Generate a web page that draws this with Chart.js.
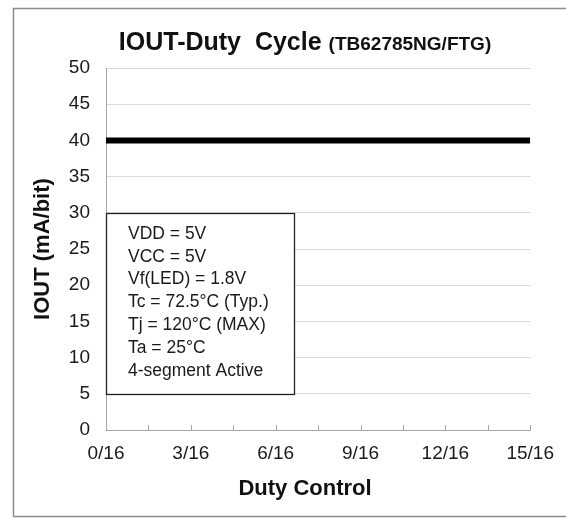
<!DOCTYPE html>
<html>
<head>
<meta charset="utf-8">
<title>IOUT-Duty Cycle</title>
<script src="https://cdn.jsdelivr.net/npm/chart.js@4.4.1/dist/chart.umd.min.js"></script>
<style>
  html, body { margin: 0; padding: 0; background: #fff; }
  #wrap { position: relative; width: 566px; height: 519px; }
</style>
</head>
<body>
<div id="wrap"><canvas id="chart" width="566" height="519"></canvas></div>
<script>
// duty setting n/16 and output current per bit
const dutySteps = [0, 1, 2, 3, 4, 5, 6, 7, 8, 9, 10, 11, 12, 13, 14, 15];
const ioutValues = [40, 40, 40, 40, 40, 40, 40, 40, 40, 40, 40, 40, 40, 40, 40, 40];

const titleMain = 'IOUT-Duty  Cycle';
const titleSub = '(TB62785NG/FTG)';
const xTitle = 'Duty Control';
const yTitle = 'IOUT (mA/bit)';
const conditions = [
  'VDD = 5V',
  'VCC = 5V',
  'Vf(LED) = 1.8V',
  'Tc = 72.5°C (Typ.)',
  'Tj = 120°C (MAX)',
  'Ta = 25°C',
  '4-segment Active'
];
// condition box extent in data units (x: n/16, y: mA)
const boxX = [0, 6.64];
const boxY = [5, 30];

const FONT = '"Liberation Sans", Arial, sans-serif';
const AXIS_GRAY = '#a6a6a6';
const GRID_GRAY = '#d9d9d9';

// outer frame, chart title and x axis title (Excel centres these on the whole chart, not the plot)
const framePlugin = {
  id: 'frame',
  beforeDraw(chart) {
    const ctx = chart.ctx;
    ctx.save();
    ctx.strokeStyle = '#8c8c8c';
    ctx.lineWidth = 1.5;
    ctx.strokeRect(13.5, 8.5, 600, 508);
    ctx.restore();
  },
  afterDraw(chart) {
    const ctx = chart.ctx;
    const cx = 305;
    ctx.save();
    ctx.fillStyle = '#111';
    ctx.textBaseline = 'alphabetic';
    ctx.font = 'bold 25px ' + FONT;
    const w1 = ctx.measureText(titleMain).width;
    ctx.font = 'bold 19px ' + FONT;
    const w2 = ctx.measureText(titleSub).width;
    const gap = 7;
    const x = cx - (w1 + gap + w2) / 2;
    ctx.font = 'bold 25px ' + FONT;
    ctx.fillText(titleMain, x, 50);
    ctx.font = 'bold 19px ' + FONT;
    ctx.fillText(titleSub, x + w1 + gap, 50);

    ctx.font = 'bold 22px ' + FONT;
    ctx.textAlign = 'center';
    ctx.fillText(xTitle, cx, 495);
    ctx.restore();
  }
};

// inside tick marks on the category axis
const innerTicks = {
  id: 'innerTicks',
  afterDatasetsDraw(chart) {
    const xs = chart.scales.x;
    const ctx = chart.ctx;
    const bottom = chart.chartArea.bottom;
    ctx.save();
    ctx.strokeStyle = AXIS_GRAY;
    ctx.lineWidth = 1;
    xs.ticks.forEach(t => {
      const px = Math.round(xs.getPixelForValue(t.value)) + 0.5;
      ctx.beginPath();
      ctx.moveTo(px, bottom);
      ctx.lineTo(px, bottom - 5);
      ctx.stroke();
    });
    ctx.restore();
  }
};

const conditionBox = {
  id: 'conditionBox',
  afterDatasetsDraw(chart) {
    const {x, y} = chart.scales;
    const ctx = chart.ctx;
    const left = x.getPixelForValue(boxX[0]);
    const right = x.getPixelForValue(boxX[1]);
    const top = y.getPixelForValue(boxY[1]);
    const bottom = y.getPixelForValue(boxY[0]);
    ctx.save();
    ctx.fillStyle = '#fff';
    ctx.fillRect(left, top, right - left, bottom - top);
    ctx.strokeStyle = '#222';
    ctx.lineWidth = 1.3;
    ctx.strokeRect(Math.round(left) + 0.5, Math.round(top) + 0.5, Math.round(right - left), Math.round(bottom - top));
    ctx.fillStyle = '#1a1a1a';
    ctx.font = '17.5px ' + FONT;
    ctx.textBaseline = 'alphabetic';
    conditions.forEach((line, i) => {
      ctx.fillText(line, left + 22, top + 26 + i * 22.8);
    });
    ctx.restore();
  }
};

new Chart(document.getElementById('chart').getContext('2d'), {
  type: 'line',
  data: {
    labels: dutySteps,
    datasets: [{
      label: 'IOUT',
      data: dutySteps.map((d, i) => ({ x: d, y: ioutValues[i] })),
      borderColor: '#000',
      borderWidth: 6,
      pointRadius: 0,
      fill: false,
      tension: 0
    }]
  },
  options: {
    responsive: false,
    animation: false,
    layout: { padding: { left: 14, right: 34, top: 68, bottom: 3 } },
    plugins: {
      legend: { display: false },
      tooltip: { enabled: false },
      title: { display: false }
    },
    scales: {
      x: {
        type: 'linear',
        min: 0,
        max: 15,
        afterFit(scale) { scale.height = 86; },
        ticks: {
          stepSize: 1.5,
          autoSkip: false,
          maxRotation: 0,
          padding: 12,
          color: '#1a1a1a',
          font: { family: FONT, size: 19 },
          callback: v => (Math.abs(v % 3) < 1e-6 ? v + '/16' : '')
        },
        grid: { display: false, drawTicks: false },
        border: { display: true, color: AXIS_GRAY, width: 1 }
      },
      y: {
        min: 0,
        max: 50,
        afterFit(scale) { scale.width = 92; },
        ticks: {
          stepSize: 5,
          padding: 16,
          color: '#1a1a1a',
          font: { family: FONT, size: 19 }
        },
        grid: { color: GRID_GRAY, drawTicks: false },
        border: { display: true, color: AXIS_GRAY, width: 1 },
        title: {
          display: true,
          text: yTitle,
          color: '#111',
          font: { family: FONT, size: 22, weight: 'bold' },
          padding: { top: 16, bottom: 0 }
        }
      }
    }
  },
  plugins: [framePlugin, innerTicks, conditionBox]
});
</script>
</body>
</html>
